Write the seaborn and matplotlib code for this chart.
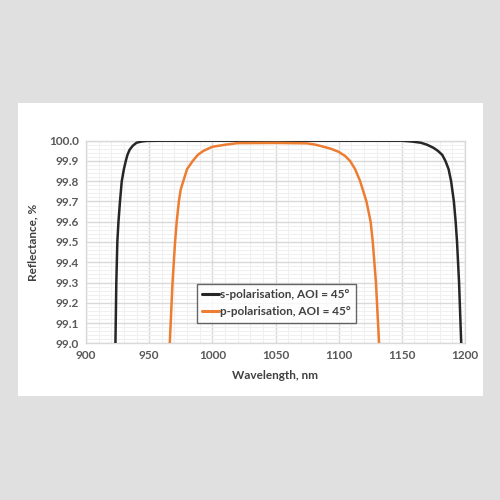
import pandas as pd
import seaborn as sns
import matplotlib.pyplot as plt
from matplotlib.patches import Rectangle
from matplotlib.ticker import MultipleLocator

# values
s_wavelength = [923.3, 924.0, 924.8, 925.7, 926.9, 928.3, 930.0, 931.5, 932.8, 934.5,
                937.0, 940.0, 944.0, 948.0, 960.0, 1100.0, 1150.0, 1158.0, 1165.0,
                1170.0, 1175.0, 1178.5, 1182.0, 1184.5, 1187.0, 1189.0, 1191.2,
                1192.6, 1193.7, 1195.3, 1197.0]
s_reflect = [99.0, 99.3, 99.5, 99.6, 99.7, 99.8, 99.86, 99.9, 99.93, 99.955,
             99.975, 99.99, 99.996, 99.999, 100.0, 100.0, 100.0, 99.996, 99.99,
             99.98, 99.965, 99.95, 99.93, 99.9, 99.86, 99.8, 99.7,
             99.6, 99.5, 99.3, 99.0]

p_wavelength = [966.3, 968.5, 970.5, 971.8, 973.5, 975.0, 977.0, 980.0, 984.5, 988.5,
                993.0, 1000.0, 1010.0, 1020.0, 1050.0, 1075.0, 1082.0, 1088.0,
                1094.0, 1100.0, 1105.0, 1109.0, 1113.0, 1117.0, 1122.0, 1125.3,
                1127.0, 1129.5, 1132.0]
p_reflect = [99.0, 99.3, 99.5, 99.6, 99.7, 99.76, 99.8, 99.86, 99.9, 99.93,
             99.95, 99.97, 99.98, 99.988, 99.989, 99.987, 99.98, 99.97,
             99.96, 99.945, 99.925, 99.9, 99.86, 99.8, 99.7, 99.6,
             99.5, 99.3, 99.0]

labels = ["s-polarisation, AOI = 45°", "p-polarisation, AOI = 45°"]
colors = ["#262626", "#ed7d31"]

df = pd.concat([
    pd.DataFrame({"Wavelength": s_wavelength, "Reflectance": s_reflect, "series": labels[0]}),
    pd.DataFrame({"Wavelength": p_wavelength, "Reflectance": p_reflect, "series": labels[1]}),
])

sns.set_style("white")
plt.rcParams["font.family"] = ["Lato", "DejaVu Sans"]

fig = plt.figure(figsize=(5, 5), dpi=100, facecolor="#e0e0e0")
panel = Rectangle((0.036, 0.208), 0.93, 0.586, transform=fig.transFigure,
                  facecolor="white", edgecolor="none", zorder=-10)
fig.add_artist(panel)
ax = fig.add_axes([0.172, 0.3134, 0.758, 0.4052])
ax.set_zorder(1)
ax.set_facecolor("white")

sns.lineplot(data=df, x="Wavelength", y="Reflectance", hue="series", sort=False,
             palette=colors, linewidth=1.8, ax=ax, zorder=3)

ax.set_xlim(900, 1200)
ax.set_ylim(99.0, 100.0)
ax.xaxis.set_major_locator(MultipleLocator(50))
ax.xaxis.set_minor_locator(MultipleLocator(10))
ax.yaxis.set_major_locator(MultipleLocator(0.1))
ax.yaxis.set_minor_locator(MultipleLocator(0.02))
ax.yaxis.set_major_formatter(plt.FormatStrFormatter("%.1f"))
ax.grid(which="major", color="#d9d9d9", linewidth=1.0)
ax.grid(which="minor", color="#f0f0f0", linewidth=0.8)
ax.set_axisbelow(True)
for sp in ax.spines.values():
    sp.set_color("#d9d9d9")
    sp.set_linewidth(1.0)
ax.tick_params(which="both", length=0, labelsize=8.5, labelcolor="#595959", pad=5)
for t in ax.get_xticklabels() + ax.get_yticklabels():
    t.set_fontweight("bold")

ax.set_xlabel("Wavelength, nm", fontsize=8.5, fontweight="bold", color="#404040", labelpad=6)
ax.set_ylabel("Reflectance, %", fontsize=8.5, fontweight="bold", color="#404040", labelpad=8)

leg = ax.legend(loc="lower left", bbox_to_anchor=(0.292, 0.102), fancybox=False,
                frameon=True, fontsize=8.5, handlelength=1.4, handletextpad=0.1,
                borderpad=0.45, labelspacing=0.55, borderaxespad=0)
leg.get_frame().set_edgecolor("#404040")
leg.get_frame().set_linewidth(1.0)
for line in leg.get_lines():
    line.set_linewidth(2.2)
for t in leg.get_texts():
    t.set_fontweight("bold")
    t.set_color("#404040")
leg.set_zorder(5)

fig.savefig("out.png", dpi=100, facecolor=fig.get_facecolor())
